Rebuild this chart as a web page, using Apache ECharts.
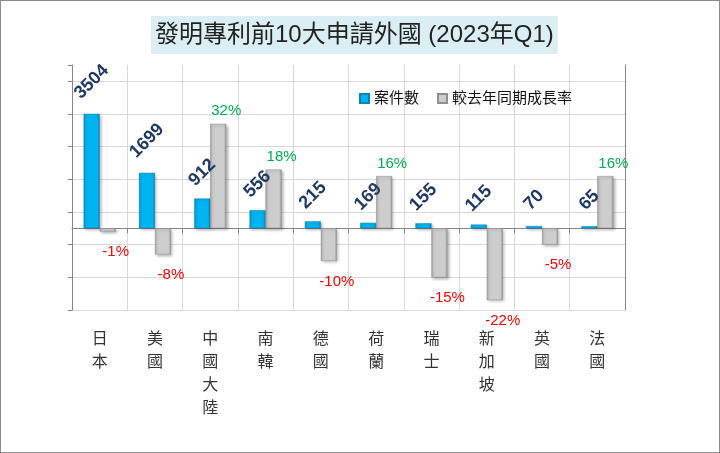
<!DOCTYPE html>
<html>
<head>
<meta charset="utf-8">
<script src="https://cdn.jsdelivr.net/npm/echarts@6/dist/echarts.min.js"></script>
<style>
  html, body { margin: 0; padding: 0; background: #fff; }
  #chart { width: 720px; height: 453px; box-sizing: border-box; border: 1px solid #8c8c8c; }
</style>
</head>
<body>
<div id="chart"></div>
<script>
// 發明專利前10大申請外國 (2023年Q1)
var countries = ['日本', '美國', '中國大陸', '南韓', '德國', '荷蘭', '瑞士', '新加坡', '英國', '法國'];
var caseCounts = [3504, 1699, 912, 556, 215, 169, 155, 115, 70, 65];
var growthRates = [-1, -8, 32, 18, -10, 16, -15, -22, -5, 16];

var FONT = '"Liberation Sans", Arial, "Noto Sans CJK TC", sans-serif';

var chart = echarts.init(document.getElementById('chart'));

var countData = caseCounts.map(function (v) {
    return { value: v, label: { distance: String(v).length >= 4 ? 32 : 26 } };
});

var rateData = growthRates.map(function (v) {
    return {
        value: v,
        label: {
            position: v < 0 ? 'bottom' : 'top',
            distance: v < 0 ? 13 : 5,
            color: v < 0 ? '#ff0000' : '#00b050'
        }
    };
});

var blueFill = new echarts.graphic.LinearGradient(0, 0, 1, 0, [
    { offset: 0, color: '#0a8ec4' },
    { offset: 0.15, color: '#00b4f2' },
    { offset: 0.85, color: '#00b4f2' },
    { offset: 1, color: '#0a86ba' }
]);
var grayFill = new echarts.graphic.LinearGradient(0, 0, 1, 0, [
    { offset: 0, color: '#a3a3a3' },
    { offset: 0.15, color: '#cdcdcd' },
    { offset: 0.85, color: '#cdcdcd' },
    { offset: 1, color: '#989898' }
]);

chart.setOption({
    animation: false,
    textStyle: { fontFamily: FONT },
    title: {
        text: '發明專利前10大申請外國 (2023年Q1)',
        left: 150,
        top: 15,
        padding: [7, 4],
        backgroundColor: '#daeef3',
        textStyle: { fontSize: 24, fontWeight: 'normal', color: '#222', fontFamily: FONT }
    },
    legend: {
        left: 353,
        top: 85,
        itemWidth: 9,
        itemHeight: 9,
        itemGap: 18,
        icon: 'rect',
        textStyle: { fontSize: 15, color: '#111' },
        data: ['案件數', '較去年同期成長率']
    },
    grid: { left: 71, right: 94, top: 64, bottom: 142 },
    xAxis: [
        {
            type: 'category',
            data: countries,
            axisLine: { onZero: true, onZeroAxisIndex: 0, lineStyle: { color: '#868686' } },
            axisTick: { show: true, interval: 0, length: 5, lineStyle: { color: '#868686' } },
            axisLabel: { show: false, interval: 0 },
            splitLine: { show: true, interval: 0, lineStyle: { color: '#d9d9d9' } }
        },
        {
            type: 'category',
            data: countries,
            position: 'bottom',
            axisLine: { show: false, onZero: false },
            axisTick: { show: false },
            axisLabel: {
                interval: 0,
                margin: 16,
                fontSize: 16,
                lineHeight: 23,
                color: '#333',
                fontFamily: '"Noto Sans CJK TC", sans-serif',
                formatter: function (s) { return s.split('').join('\n'); }
            }
        }
    ],
    yAxis: [
        {
            type: 'value',
            min: -2500,
            max: 5000,
            position: 'left',
            axisLine: { show: true, lineStyle: { color: '#868686' } },
            axisTick: { show: false },
            axisLabel: { show: false },
            splitLine: { show: false }
        },
        {
            type: 'value',
            min: -25,
            max: 50,
            position: 'right',
            axisLine: { show: true, lineStyle: { color: '#868686' } },
            axisTick: { show: false },
            axisLabel: { show: false },
            splitLine: { show: false }
        },
        {
            // helper axis for the gridlines (every 10% from -25%)
            type: 'value',
            min: 0,
            max: 75,
            interval: 10,
            position: 'left',
            axisLine: { show: false },
            axisTick: { show: true, length: 4, lineStyle: { color: '#868686' } },
            axisLabel: { show: false },
            splitLine: { show: true, showMaxLine: false, lineStyle: { color: '#d9d9d9' } }
        }
    ],
    series: [
        {
            name: '案件數',
            type: 'bar',
            xAxisIndex: 0,
            yAxisIndex: 0,
            barWidth: 16,
            barGap: '0%',
            itemStyle: {
                color: blueFill,
                borderColor: '#0c84b3',
                borderWidth: 0.5,
                shadowColor: 'rgba(0,0,0,0.3)',
                shadowBlur: 3,
                shadowOffsetX: 1.5,
                shadowOffsetY: 1.5
            },
            label: {
                show: true,
                position: 'top',
                rotate: 45,
                align: 'center',
                verticalAlign: 'middle',
                fontSize: 18,
                fontWeight: 'bold',
                color: '#1f3864'
            },
            data: countData,
            z: 3
        },
        {
            name: '較去年同期成長率',
            type: 'bar',
            xAxisIndex: 0,
            yAxisIndex: 1,
            barWidth: 16,
            itemStyle: {
                color: grayFill,
                borderColor: '#8f8f8f',
                borderWidth: 0.5,
                shadowColor: 'rgba(0,0,0,0.3)',
                shadowBlur: 3,
                shadowOffsetX: 1.5,
                shadowOffsetY: 1.5
            },
            label: {
                show: true,
                fontSize: 15,
                offset: [8, 0],
                formatter: '{c}%'
            },
            data: rateData,
            z: 3
        }
    ]
});
</script>
</body>
</html>
